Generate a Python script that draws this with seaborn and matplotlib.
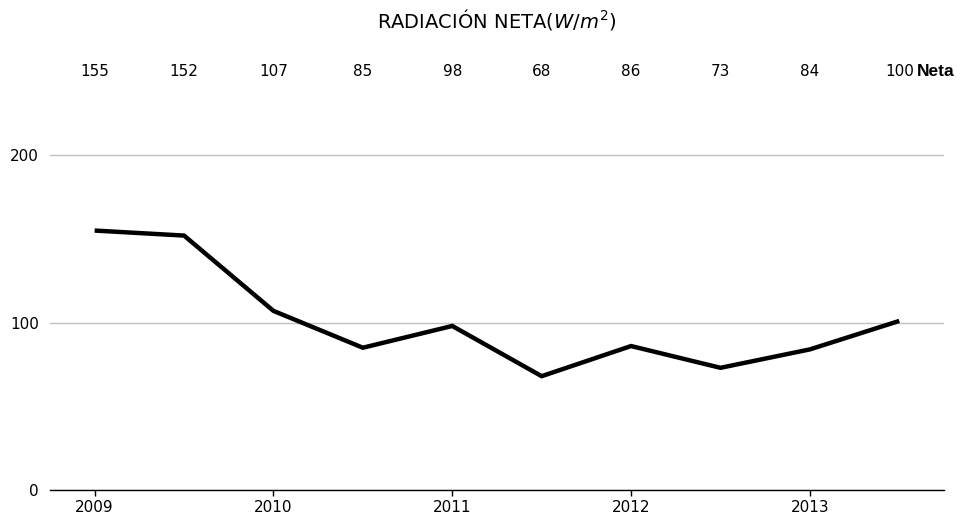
import numpy as np
import pandas as pd
import matplotlib
matplotlib.use("Agg")
import matplotlib.pyplot as plt
import matplotlib.transforms as mtransforms
import seaborn as sns

# data
periods = list(range(10))
neta = [155, 152, 107, 85, 98, 68, 86, 73, 84, 101]
top_labels = ["155", "152", "107", "85", "98", "68", "86", "73", "84", "100"]
year_ticks = [0, 2, 4, 6, 8]
year_labels = ["2009", "2010", "2011", "2012", "2013"]

sns.set_style("white")
plt.rcParams['font.family'] = ['DejaVu Sans']
plt.rcParams['text.color'] = 'black'
plt.rcParams['xtick.color'] = 'black'
plt.rcParams['ytick.color'] = 'black'

fig = plt.figure(figsize=(9.57, 5.2), dpi=100)
ax = fig.add_axes([0.0522, 0.0577, 0.9342, 0.75])

df = pd.DataFrame({"periodo": periods, "neta": neta})
sns.lineplot(data=df, x="periodo", y="neta", color="black", linewidth=3.2,
             solid_capstyle="butt", solid_joinstyle="miter", ax=ax)

ax.set_xlim(-0.5, 9.5)
ax.set_ylim(0, 233)
ax.set_yticks([0, 100, 200])
ax.set_xticks(year_ticks)
ax.set_xticklabels(year_labels)
ax.tick_params(axis="both", labelsize=11, labelcolor="black")
ax.tick_params(axis="y", length=0, pad=8)
ax.tick_params(axis="x", length=4, width=1, color="black", bottom=True)
ax.grid(axis="y", color="#c0c0c0", linewidth=1)
ax.set_axisbelow(True)
for s in ["left", "right", "top"]:
    ax.spines[s].set_visible(False)
ax.spines["bottom"].set_color("black")
ax.spines["bottom"].set_linewidth(1)
ax.set_xlabel("")
ax.set_ylabel("")

# values row above the plot
trans = mtransforms.blended_transform_factory(ax.transData, fig.transFigure)
for x, lab in zip(periods, top_labels):
    ax.text(x, 1 - 71 / 520, lab, transform=trans, ha="center", va="center",
            fontsize=11, color="black", clip_on=False)
ax.text(9.2, 1 - 71 / 520, "Neta", transform=trans, ha="left", va="center",
        fontsize=12.5, fontweight="bold", family="Liberation Sans",
        color="black", clip_on=False)

fig.text(0.5193, 1 - 19 / 520, r"RADIACIÓN NETA($W/m^2$)", ha="center",
         va="center", fontsize=14, color="black")

fig.savefig("out.png", dpi=100)
